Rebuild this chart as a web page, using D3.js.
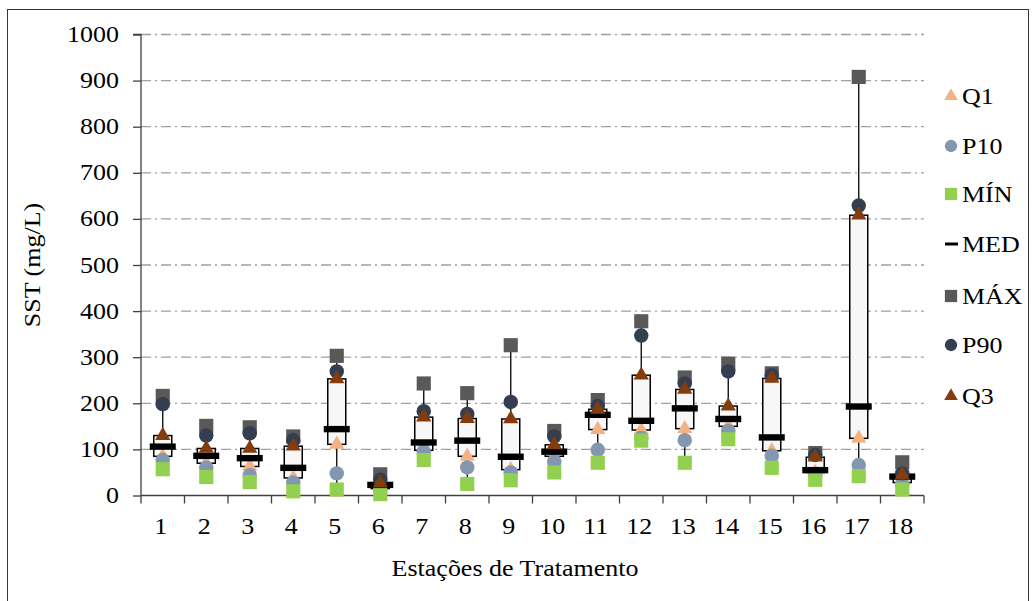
<!DOCTYPE html>
<html>
<head>
<meta charset="utf-8">
<script src="https://cdn.jsdelivr.net/npm/d3@7"></script>
<style>
  body { margin: 0; background: #fff; }
  text { font-family: "Liberation Serif", "Times New Roman", serif; fill: #000; }
</style>
</head>
<body>
<script>
// stations 1..18
var stations = ["1","2","3","4","5","6","7","8","9","10","11","12","13","14","15","16","17","18"];
var minV = [57, 40, 29, 9, 13, 3, 77, 25, 33, 50, 71, 119, 71, 122, 60, 34, 42, 13];
var p10V = [77, 60, 44, 28, 48, 10, 95, 61, 50, 73, 99, 125, 120, 140, 86, 45, 66, 25];
var q1V  = [85, 70, 63, 38, 111, 15, 98, 85, 56, 85, 143, 142, 145, 150, 97, 50, 124, 28];
var medV = [106, 86, 81, 60, 144, 23, 115, 119, 84, 95, 175, 162, 189, 166, 126, 55, 193, 41];
var q3V  = [130, 102, 102, 107, 253, 27, 170, 167, 166, 110, 187, 261, 230, 194, 254, 83, 608, 45];
var p90V = [198, 130, 135, 120, 269, 34, 183, 177, 203, 128, 194, 347, 243, 269, 261, 88, 629, 48];
var maxV = [216, 151, 148, 128, 303, 46, 243, 222, 326, 140, 207, 378, 256, 286, 265, 92, 908, 72];
var yTicks = [0, 100, 200, 300, 400, 500, 600, 700, 800, 900, 1000];

var legendItems = ["Q1", "P10", "MÍN", "MED", "MÁX", "P90", "Q3"];
var colors = {Q1: "#F4B183", P10: "#8497B0", "MÍN": "#92D050", MED: "#000000", "MÁX": "#595959", P90: "#333F50", Q3: "#843C0C"};

var W = 1035, H = 601;
var pLeft = 141, pRight = 924, pTop = 34.5, pBottom = 495.5;
var fs = 23, stretch = 1.13;

var svg = d3.select("body").append("svg")
  .attr("width", W)
  .attr("height", H);

svg.append("rect")
  .attr("x", 7.5).attr("y", 9.5)
  .attr("width", 1021).attr("height", 600)
  .attr("fill", "#fff")
  .attr("stroke", "#333").attr("stroke-width", 1);

// text helper, fonts in the picture look a bit wide
function label(parent, tx, ty, str, anchor, rot) {
  var g = parent.append("g")
    .attr("transform", "translate(" + tx + "," + ty + ")" + (rot ? " rotate(" + rot + ")" : "") + " scale(" + stretch + ",1)");
  return g.append("text")
    .attr("text-anchor", anchor || "middle")
    .attr("font-size", fs)
    .text(str);
}

var x = d3.scaleBand().domain(stations).range([pLeft, pRight]).padding(0);
var y = d3.scaleLinear().domain([0, 1000]).range([pBottom, pTop]);

// gridlines
svg.append("g").selectAll("line")
  .data(yTicks.filter(function(d){ return d > 0; }))
  .enter().append("line")
  .attr("x1", pLeft).attr("x2", pRight)
  .attr("y1", function(d){ return y(d); })
  .attr("y2", function(d){ return y(d); })
  .attr("stroke", "#a0a0a0")
  .attr("stroke-width", 1.3)
  .attr("stroke-dasharray", "10,4,2,4");

// y axis
var yAxis = svg.append("g")
  .attr("transform", "translate(" + pLeft + ",0)")
  .call(d3.axisLeft(y).tickValues(yTicks).tickSize(8).tickFormat(""));
yAxis.selectAll("line,path").attr("stroke", "#404040").attr("stroke-width", 1.3);
yAxis.select(".domain").attr("d", "M-8," + pTop + "H0V" + pBottom);
yTicks.forEach(function(t){
  label(svg, pLeft - 22, y(t) + 7.5, String(t), "end");
});

// x axis (ticks between categories)
var xg = svg.append("g").attr("transform", "translate(0," + pBottom + ")");
xg.append("line").attr("x1", pLeft).attr("x2", pRight)
  .attr("stroke", "#404040").attr("stroke-width", 1.3);
var bounds = stations.map(function(s){ return x(s); }).concat([pRight]);
xg.selectAll("line.tk").data(bounds).enter().append("line")
  .attr("class", "tk")
  .attr("x1", function(d){ return d; }).attr("x2", function(d){ return d; })
  .attr("y1", 0).attr("y2", 8)
  .attr("stroke", "#404040").attr("stroke-width", 1.3);
stations.forEach(function(s){
  label(svg, x(s) + x.bandwidth() / 2 - 2, pBottom + 38, s, "middle");
});

// axis titles
label(svg, 40, (pTop + pBottom) / 2, "SST (mg/L)", "middle", -90);
label(svg, 515, 576, "Estações de Tratamento", "middle");

var cx = function(i){ return x(stations[i]) + x.bandwidth() / 2; };

// whiskers min..max
svg.append("g").selectAll("line")
  .data(stations).enter().append("line")
  .attr("x1", function(d, i){ return cx(i); })
  .attr("x2", function(d, i){ return cx(i); })
  .attr("y1", function(d, i){ return y(minV[i]); })
  .attr("y2", function(d, i){ return y(maxV[i]); })
  .attr("stroke", "#000").attr("stroke-width", 1.3);

// boxes q1..q3
var boxW = 18;
svg.append("g").selectAll("rect")
  .data(stations).enter().append("rect")
  .attr("x", function(d, i){ return cx(i) - boxW / 2; })
  .attr("y", function(d, i){ return y(q3V[i]); })
  .attr("width", boxW)
  .attr("height", function(d, i){ return y(q1V[i]) - y(q3V[i]); })
  .attr("fill", "#f7f7f7")
  .attr("stroke", "#000").attr("stroke-width", 1.5);

function drawSymbols(vals, type, size, color) {
  svg.append("g").selectAll("path")
    .data(vals).enter().append("path")
    .attr("transform", function(d, i){ return "translate(" + cx(i) + "," + y(d) + ")"; })
    .attr("d", d3.symbol().type(type).size(size))
    .attr("fill", color);
}

drawSymbols(q1V, d3.symbolTriangle, 100, colors.Q1);
drawSymbols(p10V, d3.symbolCircle, 165, colors.P10);
drawSymbols(minV, d3.symbolSquare, 200, colors["MÍN"]);

// median bars
svg.append("g").selectAll("rect")
  .data(medV).enter().append("rect")
  .attr("x", function(d, i){ return cx(i) - 13; })
  .attr("y", function(d){ return y(d) - 3.2; })
  .attr("width", 26).attr("height", 6.4)
  .attr("fill", colors.MED);

drawSymbols(maxV, d3.symbolSquare, 200, colors["MÁX"]);
drawSymbols(p90V, d3.symbolCircle, 165, colors.P90);
drawSymbols(q3V, d3.symbolTriangle, 100, colors.Q3);

// legend
var legY = [96, 146, 194, 244, 296, 345, 396];
legendItems.forEach(function(name, i){
  var g = svg.append("g").attr("transform", "translate(951," + legY[i] + ")");
  if (name === "MED") {
    g.append("rect").attr("x", -6).attr("y", -1.5).attr("width", 13).attr("height", 3).attr("fill", "#000");
  } else {
    var t = (name === "Q1" || name === "Q3") ? d3.symbolTriangle :
            (name === "P10" || name === "P90") ? d3.symbolCircle : d3.symbolSquare;
    var sz = t === d3.symbolTriangle ? 80 : t === d3.symbolCircle ? 120 : 150;
    g.append("path").attr("d", d3.symbol().type(t).size(sz)).attr("fill", colors[name]);
  }
  label(g, 11, 7.5, name, "start");
});
</script>
</body>
</html>
